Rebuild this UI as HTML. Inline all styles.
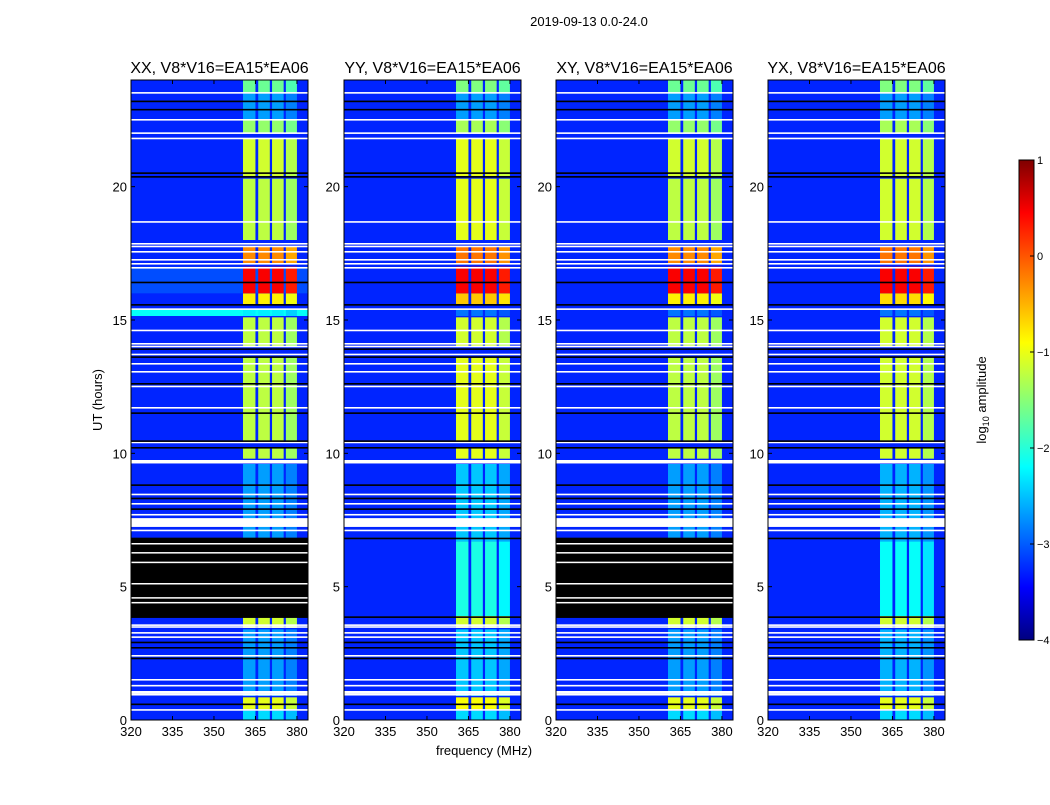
<!DOCTYPE html>
<html><head><meta charset="utf-8"><style>
body{margin:0;background:#fff;}
svg text{font-family:"Liberation Sans",sans-serif;}
</style></head><body>
<svg id="fig" width="1050" height="800" xmlns="http://www.w3.org/2000/svg">
<defs>
<linearGradient id="jet" x1="0" y1="1" x2="0" y2="0">
<stop offset="0" stop-color="#00007f"/><stop offset="0.11" stop-color="#0000ff"/><stop offset="0.36" stop-color="#00ffff"/>
<stop offset="0.62" stop-color="#ffff00"/><stop offset="0.89" stop-color="#ff0000"/><stop offset="1" stop-color="#7f0000"/>
</linearGradient>
</defs>
<text x="589" y="26" font-size="13" text-anchor="middle">2019-09-13 0.0-24.0</text>
<g id="panels"></g>
<g>
<rect x="1019" y="160" width="15" height="480" fill="url(#jet)" stroke="#000"/>
<g id="cbticks"></g>
<text transform="translate(986,400) rotate(-90)" font-size="13" text-anchor="middle">log<tspan font-size="9" dy="3">10</tspan><tspan dy="-3"> amplitude</tspan></text>
</g>
<text x="484" y="755" font-size="13" text-anchor="middle">frequency (MHz)</text>
<text transform="translate(102,400) rotate(-90)" font-size="13" text-anchor="middle">UT (hours)</text>
</svg>
<script>
const panelTitles=["XX, V8*V16=EA15*EA06","YY, V8*V16=EA15*EA06","XY, V8*V16=EA15*EA06","YX, V8*V16=EA15*EA06"];
const xTicks=[320,335,350,365,380];
const yTicks=[0,5,10,15,20];
const cbTicks=[1,0,-1,-2,-3,-4];
const rfiStart=[360.5,366,371,376];
const rfiEnd=[365,370.2,375.2,380];
const segStart=[0,0.4,0.9,3.45,3.9,6.7,7.7,9.8,10.4,12.5,14.0,15.15,15.6,16.0,17.1,18.0,20.4,22.0,22.5,23.5];
const segEnd=[0.35,0.85,3.4,3.9,6.7,7.7,9.6,10.2,12.5,13.6,15.1,15.4,16.0,17.0,17.75,20.3,21.8,22.5,23.5,24];
const levelXX=[-2.3,-1.0,-2.6,-1.1,-2.6,-2.6,-2.6,-1.2,-1.2,-1.2,-1.2,-2.2,-0.8,0.4,-0.3,-1.2,-1.1,-1.4,-2.6,-1.6];
const levelYY=[-2.3,-0.9,-2.4,-1.1,-2.0,-2.4,-2.4,-1.0,-1.0,-1.0,-1.1,-2.8,-0.6,0.4,-0.2,-1.0,-1.0,-1.3,-2.6,-1.5];
const levelXY=[-2.3,-1.0,-2.6,-1.1,-2.6,-2.6,-2.6,-1.2,-1.2,-1.2,-1.2,-2.8,-0.8,0.4,-0.3,-1.2,-1.1,-1.4,-2.6,-1.6];
const levelYX=[-2.3,-1.0,-2.5,-1.1,-2.1,-2.5,-2.5,-1.1,-1.1,-1.1,-1.1,-2.8,-0.7,0.4,-0.2,-1.1,-1.1,-1.3,-2.6,-1.5];
const bandXX=[-3.2,-3.2,-3.2,-3.2,-3.2,-3.2,-3.2,-3.2,-3.2,-3.2,-3.2,-2.1,-3.2,-3.0,-3.2,-3.2,-3.2,-3.2,-3.2,-3.2];
const whiteLines=[0.37,0.94,1.0,1.05,1.28,1.5,2.4,3.1,3.26,3.48,3.55,7.1,7.69,8.1,8.45,9.7,10.4,11.7,12.5,13.05,13.35,13.7,14.0,14.1,14.6,15.4,16.95,17.1,17.25,17.55,17.75,17.85,18.67,21.8,22.0,22.5,23.51];
const whiteBandStart=[7.24,9.62];
const whiteBandEnd=[7.57,9.75];
const blackLines=[0.58,2.3,2.7,2.9,3.85,6.8,7.9,8.3,8.8,10.2,10.45,11.5,12.6,13.6,13.9,15.56,16.4,20.36,20.5,22.88,23.19];
const blockStart=[3.86];
const blockEnd=[6.8];
const blockWhite=[4.39,4.57,5.1,5.9,6.26,6.6];
const panelLeft=[131,344,556,768];
const levels=[levelXX,levelYY,levelXY,levelYX];
const hasBlock=[true,false,true,false];
const NS="http://www.w3.org/2000/svg";
const PW=177,TOP=80,BOT=720;
function X(f,l){return l+(f-320)/64*PW;}
function Y(h){return BOT-(h/24)*(BOT-TOP);}
function jet(v){const t=Math.max(0,Math.min(1,(v+4)/5));const c=x=>Math.round(255*Math.max(0,Math.min(1,1.5-Math.abs(4*t-x))));return `rgb(${c(3)},${c(2)},${c(1)})`;}
function mk(tag,attrs,parent){const e=document.createElementNS(NS,tag);for(const k in attrs)e.setAttribute(k,attrs[k]);parent.appendChild(e);return e;}
const root=document.getElementById('panels');
for(let p=0;p<4;p++){
 const L=panelLeft[p];
 const g=mk('g',{},root);
 
 
 const bg=mk('rect',{x:L,y:TOP,width:PW,height:BOT-TOP,fill:jet(-3.2)},g);
 
 
 for(let s=0;s<segStart.length;s++){
  if(bandXX[s]!==-3.2&&p===0){const b=mk('rect',{x:L,y:Y(segEnd[s]),width:PW,height:Y(segStart[s])-Y(segEnd[s]),fill:jet(bandXX[s])},g);
   
   }
  for(let c=0;c<rfiStart.length;c++){
   const r=mk('rect',{x:X(rfiStart[c],L),y:Y(segEnd[s]),width:X(rfiEnd[c],L)-X(rfiStart[c],L),height:Y(segStart[s])-Y(segEnd[s]),fill:jet(levels[p][s]+(c===3?-0.15:0))},g);
   
   
  }
 }
 if(hasBlock[p]){for(let b=0;b<blockStart.length;b++){
  const r=mk('rect',{x:L,y:Y(blockEnd[b]),width:PW,height:Y(blockStart[b])-Y(blockEnd[b]),fill:'#000'},g);
  
  
  for(const w of blockWhite){const l=mk('rect',{x:L,y:Y(w)-1,width:PW,height:1.5,fill:'#fff'},g);
   
   }
 }}
 for(let b=0;b<whiteBandStart.length;b++){const r=mk('rect',{x:L,y:Y(whiteBandEnd[b]),width:PW,height:Y(whiteBandStart[b])-Y(whiteBandEnd[b]),fill:'#fff'},g);
  
  }
 for(const w of whiteLines){const l=mk('rect',{x:L,y:Y(w)-1,width:PW,height:1.6,fill:'#fff'},g);
  
  }
 for(const w of blackLines){const l=mk('rect',{x:L,y:Y(w)-1,width:PW,height:1.6,fill:'#000'},g);
  
  }
 const fr=mk('rect',{x:L,y:TOP,width:PW,height:BOT-TOP,fill:'none',stroke:'#000','stroke-width':1},g);
 
 
 const t=mk('text',{x:L+PW/2,y:TOP-7,'font-size':16,'text-anchor':'middle'},g);t.textContent=panelTitles[p];
 
 
 for(const v of xTicks){const x=X(v,L);
  mk('line',{x1:x,x2:x,y1:BOT,y2:BOT-4,stroke:'#000'},g);mk('line',{x1:x,x2:x,y1:TOP,y2:TOP+4,stroke:'#000'},g);
  const tx=mk('text',{x:x,y:BOT+16,'font-size':13,'text-anchor':'middle'},g);tx.textContent=v;
  
  }
 for(const v of yTicks){const y=Y(v);
  mk('line',{x1:L,x2:L+4,y1:y,y2:y,stroke:'#000'},g);mk('line',{x1:L+PW,x2:L+PW-4,y1:y,y2:y,stroke:'#000'},g);
  const ty=mk('text',{x:L-4,y:y+5,'font-size':13,'text-anchor':'end'},g);ty.textContent=v;
  
  }
}
const cb=document.getElementById('cbticks');
for(const v of cbTicks){const y=640-(v+4)/5*480;
 mk('line',{x1:1030,x2:1034,y1:y,y2:y,stroke:'#000'},cb);
 const t=mk('text',{x:1037,y:y+4,'font-size':11},cb);t.textContent=v<0?'\u2212'+(-v):v;
 
 }
</script>
</body></html>
